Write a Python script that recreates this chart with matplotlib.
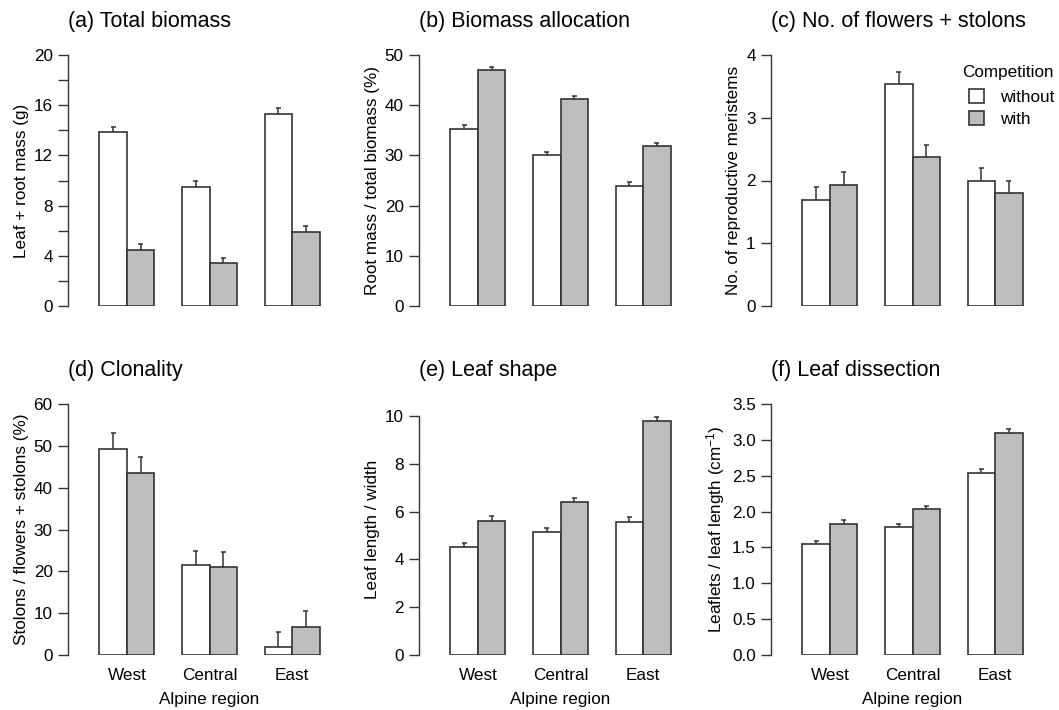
import numpy as np
import matplotlib
matplotlib.use('Agg')
import matplotlib.pyplot as plt
from matplotlib.patches import Patch

plt.rcParams['font.family'] = ['Liberation Sans', 'DejaVu Sans']
plt.rcParams['mathtext.fontset'] = 'custom'
plt.rcParams['mathtext.rm'] = 'Liberation Sans'
plt.rcParams['mathtext.it'] = 'Liberation Sans:italic'

# Regions and treatment levels
regions = ['West', 'Central', 'East']
treatments = ['without', 'with']

# (a) total biomass, g
biomass_without = [13.84, 9.46, 15.33]
biomass_without_se = [0.45, 0.50, 0.47]
biomass_with = [4.46, 3.40, 5.87]
biomass_with_se = [0.45, 0.45, 0.50]

# (b) root mass / total biomass, %
alloc_without = [35.3, 30.0, 23.9]
alloc_without_se = [0.8, 0.7, 0.8]
alloc_with = [47.1, 41.2, 31.9]
alloc_with_se = [0.6, 0.7, 0.6]

# (c) number of reproductive meristems
merist_without = [1.69, 3.53, 1.99]
merist_without_se = [0.20, 0.20, 0.21]
merist_with = [1.93, 2.37, 1.80]
merist_with_se = [0.20, 0.20, 0.20]

# (d) stolons / (flowers + stolons), %
clon_without = [49.3, 21.4, 2.0]
clon_without_se = [3.8, 3.5, 3.6]
clon_with = [43.6, 21.0, 6.7]
clon_with_se = [3.7, 3.6, 3.7]

# (e) leaf length / width
shape_without = [4.50, 5.13, 5.58]
shape_without_se = [0.20, 0.20, 0.19]
shape_with = [5.62, 6.40, 9.80]
shape_with_se = [0.20, 0.18, 0.16]

# (f) leaflets per cm leaf length
dissect_without = [1.546, 1.778, 2.54]
dissect_without_se = [0.05, 0.05, 0.055]
dissect_with = [1.829, 2.029, 3.097]
dissect_with_se = [0.05, 0.05, 0.053]

panels = [
    ('(a) Total biomass', 'Leaf + root mass (g)',
     biomass_without, biomass_without_se, biomass_with, biomass_with_se,
     20, np.arange(0, 21, 4), np.arange(0, 21, 2), 20),
    ('(b) Biomass allocation', 'Root mass / total biomass (%)',
     alloc_without, alloc_without_se, alloc_with, alloc_with_se,
     50, np.arange(0, 51, 10), None, 50),
    ('(c) No. of flowers + stolons', 'No. of reproductive meristems',
     merist_without, merist_without_se, merist_with, merist_with_se,
     4, np.arange(0, 5, 1), None, 4),
    ('(d) Clonality', 'Stolons / flowers + stolons (%)',
     clon_without, clon_without_se, clon_with, clon_with_se,
     60, np.arange(0, 61, 10), None, 60),
    ('(e) Leaf shape', 'Leaf length / width',
     shape_without, shape_without_se, shape_with, shape_with_se,
     10.5, np.arange(0, 11, 2), None, 10),
    ('(f) Leaf dissection', r'Leaflets / leaf length (cm$^{-1}$)',
     dissect_without, dissect_without_se, dissect_with, dissect_with_se,
     3.5, np.arange(0, 3.51, 0.5), None, 3.5),
]

W, H = 1059, 710
fig = plt.figure(figsize=(W / 100, H / 100), dpi=100)

lefts = [68, 419, 771]
tops = [55, 404]
ax_w, ax_h = 283, 251

edge = '#333333'
gray = '#bebebe'
fs = 12.3
bw = 1 / 3
x = np.arange(len(regions))

for i, (title, ylab, v0, e0, v1, e1, ymax, yt, yminor, spine_top) in enumerate(panels):
    row, col = divmod(i, 3)
    ax = fig.add_axes([lefts[col] / W, (H - tops[row] - ax_h) / H, ax_w / W, ax_h / H])

    ax.bar(x - bw / 2, v0, bw, color='white', edgecolor=edge, linewidth=1.2, zorder=2)
    ax.bar(x + bw / 2, v1, bw, color=gray, edgecolor=edge, linewidth=1.2, zorder=2)

    # one-sided error bars with small caps
    for xs, vals, errs in [(x - bw / 2, v0, e0), (x + bw / 2, v1, e1)]:
        vals = np.array(vals)
        tops_ = vals + np.array(errs)
        ax.vlines(xs, vals, tops_, color=edge, linewidth=1.1, zorder=1)
        ax.hlines(tops_, xs - 0.03, xs + 0.03, color=edge, linewidth=1.1, zorder=1)

    ax.set_xlim(-0.715, 2.715)
    ax.set_ylim(0, ymax)
    ax.set_yticks(yt)
    if col == 2 and row == 1:
        ax.set_yticklabels(['%.1f' % t for t in yt])
    if yminor is not None:
        ax.set_yticks(yminor, minor=True)
        ax.tick_params(axis='y', which='minor', length=7, width=1, color=edge)

    for s in ['top', 'right', 'bottom']:
        ax.spines[s].set_visible(False)
    ax.spines['left'].set_color(edge)
    ax.spines['left'].set_linewidth(1.0)
    ax.spines['left'].set_bounds(0, spine_top)
    ax.tick_params(axis='y', which='major', length=7, width=1, color=edge,
                   labelsize=fs, pad=4)
    ax.set_ylabel(ylab, fontsize=fs, labelpad=3.5)

    ax.set_xticks(x)
    if row == 1:
        ax.set_xticklabels(regions, fontsize=fs)
        ax.tick_params(axis='x', length=0, pad=9)
        ax.set_xlabel('Alpine region', fontsize=fs, labelpad=7)
    else:
        ax.set_xticklabels([])
        ax.tick_params(axis='x', length=0)

    ax.set_title(title, loc='left', fontsize=15.5, pad=20.5)

    if i == 2:
        ax.text(0.675, 0.93, 'Competition', transform=ax.transAxes,
                fontsize=fs, ha='left', va='center')
        handles = [Patch(facecolor='white', edgecolor=edge, linewidth=1.2),
                   Patch(facecolor=gray, edgecolor=edge, linewidth=1.2)]
        ax.legend(handles=handles, labels=treatments, loc='upper left',
                  bbox_to_anchor=(0.70, 0.866), frameon=False, fontsize=fs,
                  handlelength=0.9, handleheight=0.9, handletextpad=0.9,
                  labelspacing=0.37, borderaxespad=0, borderpad=0)

fig.savefig('out.png', dpi=100, facecolor='white')
